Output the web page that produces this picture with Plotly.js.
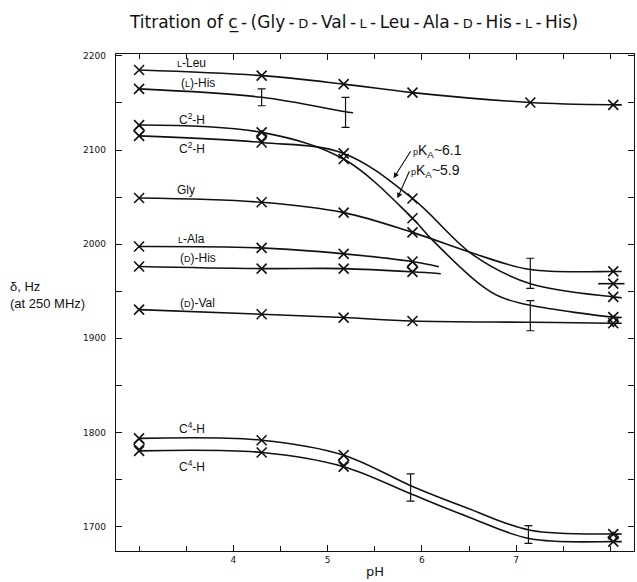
<!DOCTYPE html>
<html><head><meta charset="utf-8">
<script src="https://cdn.plot.ly/plotly-3.0.1.min.js"></script>
<style>html,body{margin:0;padding:0;background:#fff}#chart{width:637px;height:582px}</style>
</head><body><div id="chart"></div>
<script>
// ---- axis tick labels ----
const xTickVals = [4, 5, 6, 7];
const yTickVals = [1700, 1800, 1900, 2000, 2100, 2200];

// ---- curves (pH, shift in Hz) ----
const leuLinePH = [3.0, 4.3, 5.17, 5.9, 7.15, 8.03, 8.12];
const leuLineHz = [2185, 2179, 2170, 2161, 2150.5, 2148, 2148];
const leuMarkPH = [3.0, 4.3, 5.17, 5.9, 7.15, 8.03];
const leuMarkHz = [2185, 2179, 2170, 2161, 2150.5, 2148];

const lhisLinePH = [3.0, 4.3, 5.17, 5.27];
const lhisLineHz = [2165, 2156, 2141, 2139.5];
const lhisMarkPH = [3.0];
const lhisMarkHz = [2165];

// C2-H, pKa ~5.9 (upper at low pH)
const c2aLinePH = [3.0, 4.3, 5.17, 5.9, 6.11, 6.62, 6.83, 7.15, 8.03, 8.12];
const c2aLineHz = [2126.5, 2118.7, 2090.4, 2027.5, 2004.5, 1957, 1944, 1935, 1922.5, 1922];
const c2aMarkPH = [3.0, 4.3, 5.17, 5.9, 8.03];
const c2aMarkHz = [2126.5, 2118.7, 2090.4, 2027.5, 1922.5];

// C2-H, pKa ~6.1 (lower at low pH)
const c2bLinePH = [3.0, 4.3, 5.17, 5.9, 6.55, 7.15, 8.03, 8.12];
const c2bLineHz = [2115, 2108, 2096.4, 2048.5, 1988, 1958, 1944, 1943];
const c2bMarkPH = [3.0, 4.3, 5.17, 5.9, 8.03];
const c2bMarkHz = [2115, 2108, 2096.4, 2048.5, 1944];

const glyLinePH = [3.0, 4.3, 5.17, 5.9, 6.55, 7.15, 8.03, 8.12];
const glyLineHz = [2049, 2044.5, 2033.5, 2012.5, 1990, 1973, 1971, 1971];
const glyMarkPH = [3.0, 4.3, 5.17, 5.9, 8.03];
const glyMarkHz = [2049, 2044.5, 2033.5, 2012.5, 1971];

const alaLinePH = [3.0, 4.3, 5.17, 5.9, 6.18];
const alaLineHz = [1997.5, 1996, 1989.7, 1981.5, 1976];
const alaMarkPH = [3.0, 4.3, 5.17, 5.9];
const alaMarkHz = [1997.5, 1996, 1989.7, 1981.5];

const dhisLinePH = [3.0, 4.3, 5.17, 5.9, 6.2];
const dhisLineHz = [1976.3, 1974, 1974, 1970.6, 1968.5];
const dhisMarkPH = [3.0, 4.3, 5.17, 5.9];
const dhisMarkHz = [1976.3, 1974, 1974, 1970.6];

const valLinePH = [3.0, 4.3, 5.17, 5.9, 7.15, 8.03, 8.12];
const valLineHz = [1930.4, 1925.5, 1922, 1918.4, 1917, 1916, 1916];
const valMarkPH = [3.0, 4.3, 5.17, 5.9, 8.03];
const valMarkHz = [1930.4, 1925.5, 1922, 1918.4, 1916];

const c4aLinePH = [3.0, 4.3, 5.17, 5.9, 6.48, 7.15, 8.03, 8.12];
const c4aLineHz = [1793.6, 1791.7, 1775.8, 1742.5, 1719.6, 1696, 1692, 1692];
const c4aMarkPH = [3.0, 4.3, 5.17, 8.03];
const c4aMarkHz = [1793.6, 1791.7, 1775.8, 1692];

const c4bLinePH = [3.0, 4.3, 5.17, 5.9, 6.48, 7.15, 8.03, 8.12];
const c4bLineHz = [1780.4, 1778.7, 1763.6, 1734, 1710.7, 1687, 1684, 1684];
const c4bMarkPH = [3.0, 4.3, 5.17, 8.03];
const c4bMarkHz = [1780.4, 1778.7, 1763.6, 1684];

// extra short segment point at high pH
const extraLinePH = [7.87, 8.15];
const extraLineHz = [1958, 1958];
const extraMarkPH = [8.03];
const extraMarkHz = [1958];

// open (diamond) points
const openPH = [3.0, 4.3, 5.9, 8.03, 3.0, 5.17, 8.03];
const openHz = [2120.5, 2115, 1975.5, 1918, 1787.5, 1770.5, 1688.5];

// error bars
const errPH = [4.3, 5.19, 7.15, 7.15, 5.88, 7.13];
const errHz = [2156, 2140, 1969, 1924, 1741.5, 1691.5];
const errHalf = [9, 16, 16, 16, 14.5, 9.5];

// ---- build traces ----
const INK = '#111';
const series = [
  [leuLinePH, leuLineHz, leuMarkPH, leuMarkHz],
  [lhisLinePH, lhisLineHz, lhisMarkPH, lhisMarkHz],
  [c2aLinePH, c2aLineHz, c2aMarkPH, c2aMarkHz],
  [c2bLinePH, c2bLineHz, c2bMarkPH, c2bMarkHz],
  [glyLinePH, glyLineHz, glyMarkPH, glyMarkHz],
  [alaLinePH, alaLineHz, alaMarkPH, alaMarkHz],
  [dhisLinePH, dhisLineHz, dhisMarkPH, dhisMarkHz],
  [valLinePH, valLineHz, valMarkPH, valMarkHz],
  [c4aLinePH, c4aLineHz, c4aMarkPH, c4aMarkHz],
  [c4bLinePH, c4bLineHz, c4bMarkPH, c4bMarkHz],
  [extraLinePH, extraLineHz, extraMarkPH, extraMarkHz]
];
const traces = [];
series.forEach(s => {
  traces.push({x: s[0], y: s[1], mode: 'lines', type: 'scatter', hoverinfo: 'skip',
    line: {color: INK, width: 1.6, shape: 'spline', smoothing: 1.0}});
});
traces.push({x: openPH, y: openHz, mode: 'markers', type: 'scatter',
  marker: {symbol: 'diamond-open', size: 8, color: INK, line: {color: INK, width: 1.3}}});
series.forEach(s => {
  traces.push({x: s[2], y: s[3], mode: 'markers', type: 'scatter', hoverinfo: 'skip',
    marker: {symbol: 'x-thin-open', size: 10, color: INK, line: {color: INK, width: 1.6}}});
});
traces.push({x: errPH, y: errHz, mode: 'markers', type: 'scatter',
  marker: {size: 1, color: 'rgba(0,0,0,0)'},
  error_y: {type: 'data', array: errHalf, visible: true, color: INK, thickness: 1.2, width: 4}});

const LBL = {family: 'Liberation Sans, Arial, sans-serif', size: 12, color: INK};
const sc = t => '<span style="font-size:9px">' + t + '</span>';
function lab(text, x, y, extra) {
  return Object.assign({x: x, y: y, xref: 'x', yref: 'y', text: text, showarrow: false,
    font: LBL, xanchor: 'center', yanchor: 'middle'}, extra || {});
}
const PKF = {family: 'Liberation Sans, Arial, sans-serif', size: 14, color: INK};
const annotations = [
  lab(sc('L') + '-Leu', 3.56, 2192.4),
  lab('(' + sc('L') + ')-His', 3.63, 2171.5),
  lab('C<sup>2</sup>-H', 3.56, 2133),
  lab('C<sup>2</sup>-H', 3.56, 2101.8),
  lab('Gly', 3.50, 2057.5),
  lab(sc('L') + '-Ala', 3.56, 2005),
  lab('(' + sc('D') + ')-His', 3.63, 1985),
  lab('(' + sc('D') + ')-Val', 3.62, 1937.8),
  lab('C<sup>4</sup>-H', 3.56, 1804.4),
  lab('C<sup>4</sup>-H', 3.56, 1764.6),
  {x: 5.70, y: 2070, xref: 'x', yref: 'y', ax: 17, ay: -27, showarrow: true,
    text: '<span style="font-size:9px">p</span>K<sub>A</sub>~6.1', font: PKF,
    xanchor: 'left', yanchor: 'middle',
    arrowhead: 2, arrowsize: 1, arrowwidth: 1.1, arrowcolor: INK},
  {x: 5.74, y: 2048.7, xref: 'x', yref: 'y', ax: 12, ay: -27, showarrow: true,
    text: '<span style="font-size:9px">p</span>K<sub>A</sub>~5.9', font: PKF,
    xanchor: 'left', yanchor: 'middle',
    arrowhead: 2, arrowsize: 1, arrowwidth: 1.1, arrowcolor: INK},
  {x: -0.2085, y: 0.515, xref: 'paper', yref: 'paper', xanchor: 'left', yanchor: 'middle',
    align: 'left', showarrow: false, text: 'δ, Hz<br>(at 250 MHz)',
    font: {family: 'Liberation Sans, Arial, sans-serif', size: 13, color: INK}}
];

const T = '\u2009';
const scT = t => '<span style="font-size:13px">' + t + '</span>';
const titleText = 'Titration of c̲' + T + '-' + T + '(Gly' + T + '-' + T + scT('D') + T + '-' + T + 'Val' + T + '-' + T +
  scT('L') + T + '-' + T + 'Leu' + T + '-' + T + 'Ala' + T + '-' + T + scT('D') + T + '-' + T + 'His' + T + '-' + T +
  scT('L') + T + '-' + T + 'His)';

const layout = {
  width: 637, height: 582,
  margin: {l: 116, r: 3, t: 54, b: 31},
  paper_bgcolor: '#fff', plot_bgcolor: '#fff',
  showlegend: false,
  title: {
    text: titleText,
    font: {family: 'DejaVu Sans, sans-serif', size: 17, color: INK},
    xref: 'container', x: 354 / 637, xanchor: 'center',
    yref: 'container', y: 1 - 22 / 582, yanchor: 'middle'
  },
  xaxis: {
    range: [2.755, 8.25], showgrid: false, zeroline: false,
    showline: true, linecolor: INK, linewidth: 1.3, mirror: 'ticks',
    tickmode: 'array', tickvals: xTickVals, ticktext: xTickVals.map(String),
    ticks: 'inside', ticklen: 6, tickwidth: 1, tickcolor: INK,
    minor: {tickmode: 'linear', tick0: 0, dtick: 0.5, ticks: 'inside', ticklen: 5, tickwidth: 1, tickcolor: INK},
    tickfont: {family: 'DejaVu Sans, sans-serif', size: 9, color: INK},
    title: {text: 'pH', standoff: 2, font: {family: 'DejaVu Sans, sans-serif', size: 13, color: INK}}
  },
  yaxis: {
    range: [1674, 2202], showgrid: false, zeroline: false,
    showline: true, linecolor: INK, linewidth: 1.3, mirror: 'ticks',
    tickmode: 'array', tickvals: yTickVals, ticktext: yTickVals.map(String),
    ticks: 'inside', ticklen: 6, tickwidth: 1, tickcolor: INK,
    minor: {tickmode: 'linear', tick0: 1650, dtick: 50, ticks: 'inside', ticklen: 6, tickwidth: 1, tickcolor: INK},
    tickfont: {family: 'DejaVu Sans, sans-serif', size: 9, color: INK},
    ticklabelstandoff: 7
  },
  annotations: annotations
};

Plotly.newPlot('chart', traces, layout, {displayModeBar: false, staticPlot: true});
</script>
</body></html>
